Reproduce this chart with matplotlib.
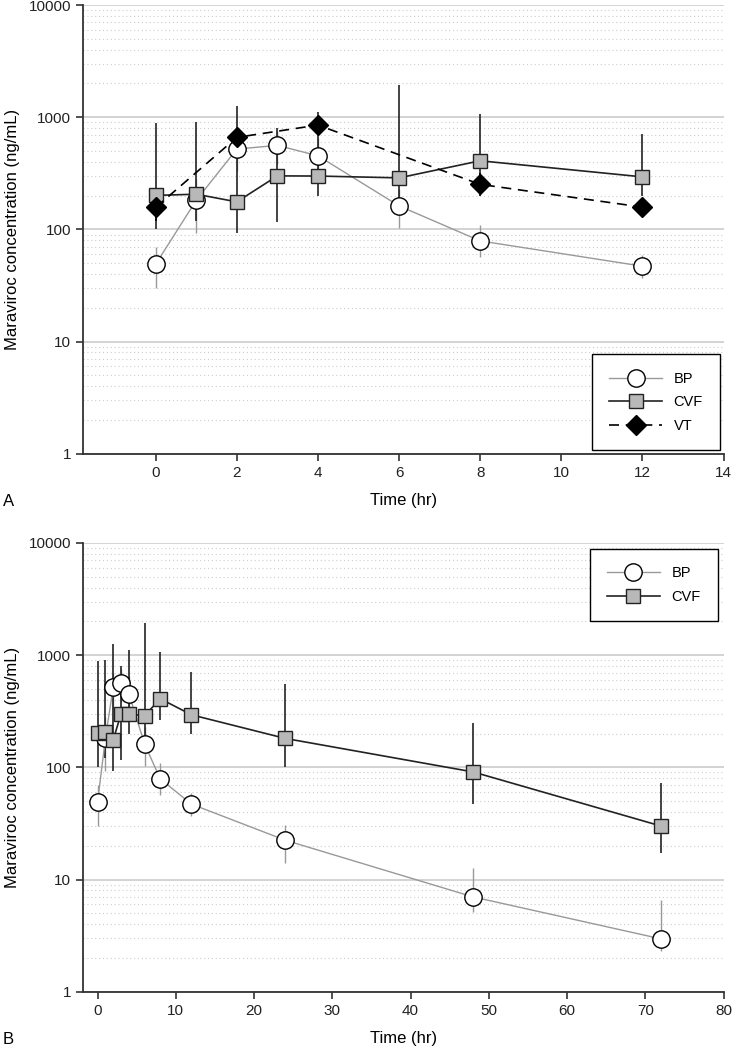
import matplotlib
matplotlib.use("Agg")
import matplotlib.pyplot as plt
from matplotlib.ticker import LogLocator, NullFormatter

plt.rcParams['font.family'] = ['Liberation Sans', 'DejaVu Sans']

# panel A: first 12 h
time_a = [0, 1, 2, 3, 4, 6, 8, 12]
bp_a = [49, 182, 520, 561, 453, 162, 79, 47]
bp_a_lo = [30, 92, 330, 380, 300, 102, 57, 37]
bp_a_hi = [70, 280, 700, 760, 650, 230, 109, 59]
cvf_a = [201, 206, 176, 300, 299, 288, 409, 294]
cvf_a_lo = [100, 120, 93, 116, 199, 170, 265, 197]
cvf_a_hi = [891, 904, 1250, 800, 1120, 1950, 1059, 703]
time_vt = [0, 2, 4, 8, 12]
vt = [157, 661, 851, 252, 158]
vt_lo = [120, 500, 700, 200, 130]
vt_hi = [200, 800, 1000, 320, 190]

# panel B: up to 72 h
time_b = [0, 1, 2, 3, 4, 6, 8, 12, 24, 48, 72]
bp_b = [49, 182, 520, 561, 453, 162, 79, 47, 22.4, 7.0, 2.96]
bp_b_lo = [30, 92, 330, 380, 300, 102, 57, 37, 14.0, 5.1, 2.33]
bp_b_hi = [70, 280, 700, 760, 650, 230, 109, 59, 30.5, 12.8, 6.6]
cvf_b = [201, 206, 176, 300, 299, 288, 409, 294, 181, 91, 30]
cvf_b_lo = [100, 120, 93, 116, 199, 170, 265, 197, 100, 47.5, 17.2]
cvf_b_hi = [891, 904, 1250, 800, 1120, 1950, 1059, 703, 558, 248, 72]

yticks = [1, 10, 100, 1000, 10000]
ylabels = ["1", "10", "100", "1000", "10000"]


def err(vals, lo, hi):
    return [[v - l for v, l in zip(vals, lo)], [h - v for v, h in zip(vals, hi)]]


def style(ax, xmin, xmax, xticks):
    ax.set_yscale('log')
    ax.set_ylim(1, 10000)
    ax.set_xlim(xmin, xmax)
    ax.set_xticks(xticks)
    ax.set_yticks(yticks)
    ax.set_yticklabels(ylabels)
    ax.yaxis.set_minor_locator(LogLocator(base=10, subs=range(2, 10)))
    ax.yaxis.set_minor_formatter(NullFormatter())
    ax.tick_params(axis='y', which='minor', length=0)
    ax.tick_params(which='major', direction='out', length=5, width=1.2,
                   color='#333333', labelsize=11, labelcolor='#222222')
    ax.grid(True, which='major', axis='y', color='#c8c8c8', lw=1.1)
    ax.grid(True, which='minor', axis='y', color='#cccccc', lw=0.8, ls=(0, (1, 2.5)))
    ax.set_axisbelow(True)
    for s in ['top', 'right']:
        ax.spines[s].set_visible(False)
    for s in ['left', 'bottom']:
        ax.spines[s].set_color('#333333')
        ax.spines[s].set_linewidth(1.3)
    ax.set_ylabel("Maraviroc concentration (ng/mL)", fontsize=12, labelpad=6)
    ax.set_xlabel("Time (hr)", fontsize=12, labelpad=10)


fig = plt.figure(figsize=(7.32, 10.48), dpi=100)
ax1 = fig.add_axes([0.113, 0.567, 0.8754, 0.4282])
ax2 = fig.add_axes([0.113, 0.0537, 0.8754, 0.4282])

bp_style = dict(color='#999999', lw=1.0, marker='o', ms=12.5, mfc='white', mec='black', mew=1.0)
cvf_style = dict(color='#222222', lw=1.2, marker='s', ms=10.5, mfc='#b8b8b8', mec='#222222', mew=1.0)
vt_style = dict(color='black', lw=1.2, ls=(0, (6, 4)), marker='D', ms=10, mfc='black', mec='black')

# A
ax1.errorbar(time_a, bp_a, yerr=err(bp_a, bp_a_lo, bp_a_hi), fmt='none', ecolor='#999999', elinewidth=1.0, capsize=0, zorder=2)
ax1.errorbar(time_a, cvf_a, yerr=err(cvf_a, cvf_a_lo, cvf_a_hi), fmt='none', ecolor='#222222', elinewidth=1.2, capsize=0, zorder=2.1)
ax1.errorbar(time_vt, vt, yerr=err(vt, vt_lo, vt_hi), fmt='none', ecolor='black', elinewidth=1.2, capsize=0, zorder=2.2)
ax1.plot(time_a, bp_a, label="BP", zorder=3, **bp_style)
ax1.plot(time_a, cvf_a, label="CVF", zorder=4, **cvf_style)
ax1.plot(time_vt, vt, label="VT", zorder=5, **vt_style)
style(ax1, -1.8, 14, range(0, 15, 2))
leg = ax1.legend(loc='lower right', bbox_to_anchor=(0.995, 0.008), fontsize=10.5,
                 frameon=True, fancybox=False, edgecolor='black', framealpha=1,
                 borderpad=1.2, labelspacing=0.65, handlelength=3.6, handletextpad=0.8,
                 borderaxespad=0)
leg.get_frame().set_linewidth(1.0)

# B
ax2.errorbar(time_b, bp_b, yerr=err(bp_b, bp_b_lo, bp_b_hi), fmt='none', ecolor='#999999', elinewidth=1.0, capsize=0, zorder=2)
ax2.errorbar(time_b, cvf_b, yerr=err(cvf_b, cvf_b_lo, cvf_b_hi), fmt='none', ecolor='#222222', elinewidth=1.2, capsize=0, zorder=2.1)
ax2.plot(time_b, bp_b, label="BP", zorder=3, **bp_style)
ax2.plot(time_b, cvf_b, label="CVF", zorder=4, **cvf_style)
style(ax2, -1.9, 80, range(0, 81, 10))
leg = ax2.legend(loc='upper right', bbox_to_anchor=(0.9915, 0.987), fontsize=10.5,
                 frameon=True, fancybox=False, edgecolor='black', framealpha=1,
                 borderpad=1.2, labelspacing=0.65, handlelength=3.6, handletextpad=0.8,
                 borderaxespad=0)
leg.get_frame().set_linewidth(1.0)

fig.text(0.004, 1 - 502 / 1048, "A", fontsize=12, va='center', ha='left')
fig.text(0.004, 1 - 1040 / 1048, "B", fontsize=12, va='center', ha='left')

fig.savefig("out.png", dpi=100)
